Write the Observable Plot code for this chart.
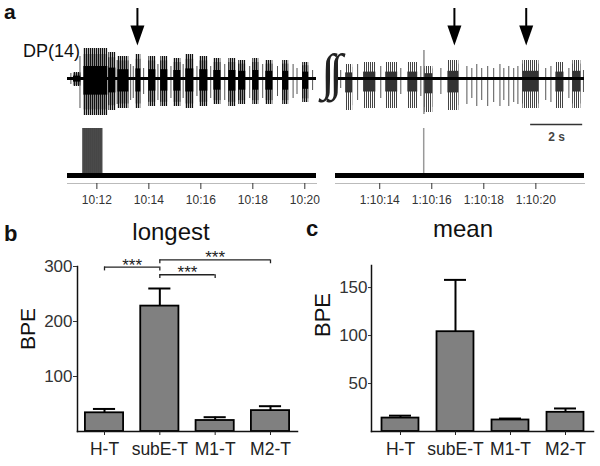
<!DOCTYPE html>
<html><head><meta charset="utf-8">
<script src="https://cdn.jsdelivr.net/npm/d3@7"></script>
<script src="https://cdn.jsdelivr.net/npm/@observablehq/plot@0.6"></script>
<style>
html,body{margin:0;padding:0;background:#fff;}
#fig{position:relative;width:600px;height:466px;overflow:hidden;font-family:"Liberation Sans",Arial,sans-serif;color:#111;background:#fff;}
#fig svg.plot{position:absolute;left:0;top:0;}
.t{position:absolute;line-height:1;white-space:nowrap;}
</style></head><body>
<svg width="0" height="0" style="position:absolute">
  <defs>
    <pattern id="spkL" width="2" height="8" patternUnits="userSpaceOnUse"><rect x="0" y="0" width="1.3" height="8" fill="#111"/></pattern>
    <pattern id="spkR" width="2" height="8" patternUnits="userSpaceOnUse"><rect x="0" y="0" width="1" height="8" fill="#444"/></pattern>
  </defs>
</svg>
<div id="fig"></div>
<script>
// ---------- Panel a: DP(14) recording (times in seconds) ----------
const leftDomain = [610.87, 620.45];
const rightDomain = [4212.30, 4221.87];
const leftTicks = [612, 614, 616, 618, 620];
const rightTicks = [4214, 4216, 4218, 4220];
// bursts: [start, end, upward amplitude, downward amplitude]
const leftBursts = [
  [611.10, 611.38, 6, 8], [611.50, 612.42, 30, 37], [612.46, 612.73, 26, 32],
  [612.81, 613.23, 22, 30], [613.50, 613.69, 24, 30], [614.00, 614.27, 22, 28],
  [614.46, 614.73, 22, 28], [614.96, 615.23, 20, 28], [615.42, 615.73, 24, 30],
  [615.96, 616.27, 22, 28], [616.50, 616.77, 20, 26], [617.08, 617.35, 20, 28],
  [617.46, 617.73, 18, 26], [618.00, 618.23, 20, 26], [618.50, 618.77, 18, 26],
  [619.15, 619.38, 18, 26], [619.92, 620.15, 16, 24]
];
// single spikes: [time, up, down]
const leftSpikes = [
  [611.00, 5, 6], [611.35, 22, 30], [612.78, 18, 26], [613.30, 14, 22], [613.40, 12, 20],
  [613.80, 10, 16], [614.35, 14, 22], [614.85, 12, 20], [615.32, 14, 20], [615.85, 12, 18],
  [616.38, 12, 20], [616.92, 14, 22], [617.88, 12, 20], [618.38, 14, 20], [618.95, 12, 18],
  [619.55, 14, 20], [619.70, 10, 16], [620.30, 8, 12]
];
const rightBursts = [
  [4212.69, 4212.96, 14, 32], [4213.38, 4213.85, 16, 30], [4214.23, 4214.69, 16, 30],
  [4215.08, 4215.46, 16, 30], [4215.74, 4216.04, 12, 34], [4216.62, 4217.04, 18, 32],
  [4219.50, 4220.12, 18, 30], [4220.77, 4221.08, 16, 30], [4221.42, 4221.73, 18, 30]
];
const rightSpikes = [
  [4212.50, 8, 10], [4213.15, 14, 22], [4214.04, 12, 20], [4214.81, 10, 16], [4215.58, 12, 18],
  [4215.70, 28, 36], [4216.35, 10, 16], [4217.35, 12, 26], [4217.54, 10, 20], [4217.73, 14, 28],
  [4217.92, 10, 22], [4218.15, 12, 28], [4218.38, 10, 24], [4218.62, 14, 28], [4218.77, 10, 22],
  [4218.96, 12, 28], [4219.15, 10, 24], [4219.31, 12, 26], [4220.38, 10, 22], [4220.58, 12, 24],
  [4221.27, 10, 20], [4221.83, 8, 14]
];
const leftArrows = [613.56];
const rightArrows = [4216.87, 4219.63];
const leftEvents = [[611.46, 612.23]];
const rightEvents = [4215.69];
const scaleBar = [[4219.80, 4221.80, "2 s"]];

// ---------- Panels b, c ----------
const groups = ["H-T", "subE-T", "M1-T", "M2-T"];
const longestMean = [34, 228, 20, 38];
const longestSem = [7, 32, 6, 8];
const meanMean = [14, 104, 12, 20];
const meanSem = [2.5, 54, 1.5, 4];
const longestTicks = [100, 200, 300];
const meanTicks = [50, 100, 150];
// significance: [group a, group b, bracket level, label]
const sigPairs = [[0, 1, 299, "***"], [1, 2, 285, "***"], [1, 3, 312, "***"]];

// ---------- rendering ----------
const fig = document.getElementById("fig");
const FONT = "Liberation Sans, Arial, sans-serif";
const base = {width: 600, height: 466, style: {background: "transparent", overflow: "visible", fontFamily: FONT}};
function add(opts) { const el = Plot.plot({...base, ...opts}); el.classList.add("plot"); fig.appendChild(el); }
function label(text, x, baseline, size, css = "") {
  const d = document.createElement("div");
  d.className = "t";
  d.textContent = text;
  d.style.cssText += `left:${x}px;top:${baseline - 0.8465 * size}px;font-size:${size}px;${css}`;
  fig.appendChild(d);
  return d;
}
const fmtTime = t => {
  const h = Math.floor(t / 3600), m = Math.floor((t % 3600) / 60), s = Math.round(t % 60);
  return (h ? h + ":" + String(m).padStart(2, "0") : String(m)) + ":" + String(s).padStart(2, "0");
};
const arrowHead = {draw(ctx) { ctx.moveTo(-7, -10); ctx.lineTo(7, -10); ctx.lineTo(0, 10); ctx.closePath(); }};

function trace(domain, L, R, bursts, spikes, arrows, shade, extra = []) {
  add({
    marginLeft: L, marginRight: 600 - R, marginTop: 40, marginBottom: 466 - 125,
    x: {domain, axis: null}, y: {domain: [-47, 38], axis: null},
    marks: [
      Plot.ruleX(spikes, {x: d => d[0], y1: d => -d[2], y2: d => d[1], stroke: "#555", strokeWidth: 1}),
      Plot.rect(bursts, {x1: d => d[0], x2: d => d[1], y1: d => -d[3], y2: d => d[2], fill: shade[0]}),
      Plot.rect(bursts, {x1: d => d[0], x2: d => d[1], y1: d => -d[3] * 0.85, y2: d => d[2] * 0.8, fill: shade[0]}),
      Plot.rect(bursts, {x1: d => d[0], x2: d => d[1], y1: d => -d[3] * 0.45, y2: d => d[2] * 0.4, fill: shade[1]}),
      Plot.ruleY([0], {stroke: "#000", strokeWidth: 3}),
      Plot.ruleX(arrows, {x: d => d, y1: 51, y2: 70, stroke: "#000", strokeWidth: 2}),
      Plot.dot(arrows, {x: d => d, y: 43, symbol: arrowHead, fill: "#000", stroke: null}),
      ...extra
    ]
  });
}
function events(domain, L, R, ticks, marks) {
  add({
    marginLeft: L, marginRight: 600 - R, marginTop: 128, marginBottom: 466 - 183,
    x: {domain}, y: {domain: [0, 1], range: [175, 128], axis: null},
    marks: [
      Plot.frame({anchor: "bottom", stroke: "#bbb"}),
      ...marks,
      Plot.ruleY([0], {stroke: "#000", strokeWidth: 5}),
      Plot.axisX({ticks, tickFormat: fmtTime, tickSize: 6, tickPadding: 6, fontSize: 12, color: "#333", label: null})
    ]
  });
}
function bars(L, R, T, yMax, means, sems, yTicks, xDomain, half, tickSize, extra = []) {
  const data = groups.map((g, i) => ({i, g, m: means[i], e: sems[i]}));
  add({
    marginLeft: L, marginRight: 600 - R, marginTop: T, marginBottom: 466 - 431,
    x: {domain: xDomain}, y: {domain: [0, yMax]},
    marks: [
      Plot.rect(data, {x1: d => d.i - half, x2: d => d.i + half, y1: 0, y2: "m", fill: "#808080", stroke: "#000", strokeWidth: 1.8}),
      Plot.ruleX(data, {x: "i", y1: "m", y2: d => d.m + d.e, stroke: "#000", strokeWidth: 2}),
      Plot.ruleY(data, {y: d => d.m + d.e, x1: d => d.i - 0.2, x2: d => d.i + 0.2, stroke: "#000", strokeWidth: 2}),
      Plot.frame({anchor: "left", strokeWidth: 1.5}),
      Plot.frame({anchor: "bottom", strokeWidth: 1.5}),
      Plot.axisY({ticks: yTicks, tickSize, tickPadding: 1, fontSize: 17, color: "#333", label: null}),
      Plot.axisX({ticks: [0, 1, 2, 3], tickFormat: i => groups[i], tickSize: 4, tickPadding: 7, fontSize: 17.5, color: "#222", label: null}),
      ...extra
    ]
  });
}

// panel a
trace(leftDomain, 67, 316, leftBursts, leftSpikes, leftArrows, ["url(#spkL)", "#000"]);
trace(rightDomain, 335, 584, rightBursts, rightSpikes, rightArrows, ["url(#spkR)", "#333"], [
  Plot.ruleY(scaleBar, {y: -46, x1: d => d[0], x2: d => d[1], stroke: "#333", strokeWidth: 1.6}),
  Plot.text(scaleBar, {x: d => (d[0] + d[1]) / 2, y: -46, text: d => d[2], dy: 13, fontSize: 12, fontWeight: "bold", fill: "#444"})
]);
events(leftDomain, 67, 316, leftTicks, [
  Plot.rect(leftEvents, {x1: d => d[0], x2: d => d[1], y1: 0, y2: 1, fill: "#4a4a4a"}),
  Plot.rect(leftEvents, {x1: d => d[0], x2: d => d[1], y1: 0, y2: 1, fill: "url(#spkR)", opacity: 0.6})
]);
events(rightDomain, 335, 584, rightTicks, [
  Plot.ruleX(rightEvents, {x: d => d, y1: 0, y2: 1, stroke: "#999", strokeWidth: 1.5})
]);

// panel b
const sigEnds = sigPairs.flatMap(d => [[d[0], d[2]], [d[1], d[2]]]);
bars(77, 297, 266, 300, longestMean, longestSem, longestTicks, [-0.488, 3.488], 0.345, 4, [
  Plot.ruleY(sigPairs, {y: d => d[2], x1: d => d[0], x2: d => d[1], stroke: "#222", strokeWidth: 1.3}),
  Plot.ruleX(sigEnds, {x: d => d[0], y1: d => d[1], y2: d => d[1] - 7, stroke: "#222", strokeWidth: 1.3}),
  Plot.text(sigPairs, {x: d => (d[0] + d[1]) / 2, y: d => d[2], text: d => d[3], dy: -2, fontSize: 17, fill: "#222"})
]);
// panel c
bars(371, 593, 265, 173, meanMean, meanSem, meanTicks, [-0.527, 3.509], 0.336, 3);

// text
label("a", 4, 19, 21, "font-weight:bold;");
label("DP(14)", 23, 57, 18);
label("b", 4, 242, 22, "font-weight:bold;");
label("c", 306, 237, 22, "font-weight:bold;");
label("longest", 171, 240, 24, "transform:translateX(-50%);");
label("mean", 463, 237, 24, "transform:translateX(-50%);");
label("BPE", 27, 339 + 0.35 * 21, 21, "transform:translate(-50%,-50%) rotate(-90deg);transform-origin:50% 50%;");
label("BPE", 323, 326 + 0.35 * 22, 22, "transform:translate(-50%,-50%) rotate(-90deg);transform-origin:50% 50%;");

// axis-break mark between the two recordings, fitted to the gap by measuring the glyph
(function () {
  const ctx = document.createElement("canvas").getContext("2d");
  const fam = "'DejaVu Sans'";
  ctx.font = `200 100px ${fam}`;
  let m = ctx.measureText("\u222B");
  const inkH = m.actualBoundingBoxAscent + m.actualBoundingBoxDescent;
  const size = inkH > 0 ? 100 * 50 / inkH : 50;
  ctx.font = `200 ${size}px ${fam}`;
  m = ctx.measureText("\u222B");
  const gap = 8;
  const baseline = 53 + m.actualBoundingBoxAscent;
  const left = 318 + m.actualBoundingBoxLeft;
  label("\u222B\u222B", left, baseline, size,
    `font-family:${fam};font-weight:200;color:#222;letter-spacing:${gap - m.width}px;`);
})();
</script></body></html>
